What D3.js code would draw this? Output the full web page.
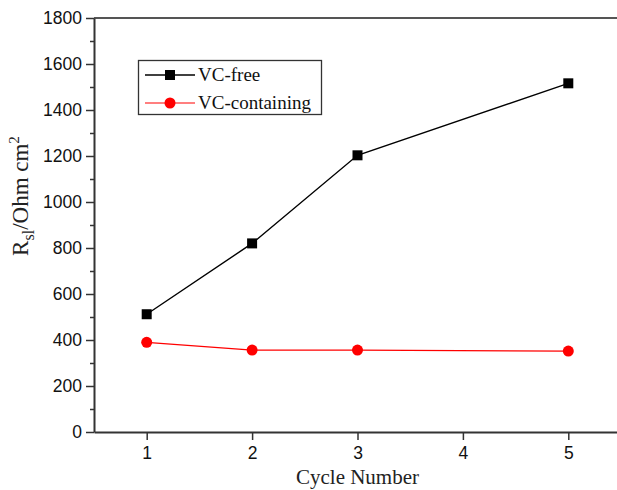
<!DOCTYPE html>
<html>
<head>
<meta charset="utf-8">
<script src="https://cdn.jsdelivr.net/npm/d3@7"></script>
<style>
  body { margin: 0; background: #fff; }
</style>
</head>
<body>
<div id="wrapper"></div>
<script>
// data
const cycles = [1, 2, 3, 5]
const vcFree = [512, 820, 1203, 1516]
const vcContaining = [390, 356, 356, 352]
const xTicks = [1, 2, 3, 4, 5]
const yTicks = [0, 200, 400, 600, 800, 1000, 1200, 1400, 1600, 1800]
const yMinorTicks = d3.range(100, 1800, 200)

function drawChart() {
  const dims = {
    width: 617,
    height: 490,
    margin: { top: 18, right: -4, bottom: 58, left: 94 }
  }
  dims.boundedWidth = dims.width - dims.margin.left - dims.margin.right
  dims.boundedHeight = dims.height - dims.margin.top - dims.margin.bottom

  const svg = d3.select("#wrapper")
    .append("svg")
      .attr("width", dims.width)
      .attr("height", dims.height)

  const bounds = svg.append("g")
      .attr("transform", `translate(${dims.margin.left},${dims.margin.top})`)

  const xScale = d3.scaleLinear()
    .domain([0.5, 5.5])
    .range([0, dims.boundedWidth])

  const yScale = d3.scaleLinear()
    .domain([0, 1800])
    .range([dims.boundedHeight, 0])

  const axisColor = "#333"
  const tickFont = "'Liberation Sans', Arial, sans-serif"
  const labelFont = "'Liberation Serif', 'Times New Roman', serif"

  // top frame line
  bounds.append("line")
      .attr("x1", 0)
      .attr("x2", dims.boundedWidth)
      .attr("y1", 0)
      .attr("y2", 0)
      .attr("stroke", "#555")
      .attr("stroke-width", 2)

  // y axis
  const yMinor = bounds.append("g")
    .call(d3.axisLeft(yScale).tickValues(yMinorTicks).tickSize(4).tickFormat(""))
  yMinor.select(".domain").remove()
  yMinor.selectAll("line").attr("stroke", axisColor).attr("stroke-width", 1.5)

  const yAxis = bounds.append("g")
    .call(d3.axisLeft(yScale).tickValues(yTicks).tickFormat(d3.format("d"))
      .tickSize(8).tickSizeOuter(0).tickPadding(4))
  yAxis.select(".domain").attr("stroke", axisColor).attr("stroke-width", 2)
  yAxis.selectAll(".tick line").attr("stroke", axisColor).attr("stroke-width", 1.5)
  yAxis.selectAll("text")
      .attr("fill", "#111")
      .style("font-family", tickFont)
      .style("font-size", "17.5px")

  // x axis
  const xAxis = bounds.append("g")
      .attr("transform", `translate(0,${dims.boundedHeight})`)
    .call(d3.axisBottom(xScale).tickValues(xTicks).tickFormat(d3.format("d"))
      .tickSize(8).tickSizeOuter(0).tickPadding(7))
  xAxis.select(".domain").attr("stroke", axisColor).attr("stroke-width", 2)
  xAxis.selectAll(".tick line").attr("stroke", axisColor).attr("stroke-width", 1.5)
  xAxis.selectAll("text")
      .attr("fill", "#111")
      .style("font-family", tickFont)
      .style("font-size", "17.5px")

  // axis labels
  bounds.append("text")
      .attr("x", xScale(3))
      .attr("y", dims.boundedHeight + 52)
      .attr("text-anchor", "middle")
      .attr("fill", "#222")
      .style("font-family", labelFont)
      .style("font-size", "21px")
      .text("Cycle Number")

  const yLabel = svg.append("text")
      .attr("transform", "translate(28,196) rotate(-90)")
      .attr("text-anchor", "middle")
      .attr("fill", "#222")
      .style("font-family", labelFont)
      .style("font-size", "23px")
  yLabel.append("tspan").text("R")
  yLabel.append("tspan").attr("dy", 6).style("font-size", "16px").text("sl")
  yLabel.append("tspan").attr("dy", -6).text("/Ohm cm")
  yLabel.append("tspan").attr("dy", -9).style("font-size", "15px").text("2")

  // lines
  const series = [
    { name: "VC-free", values: vcFree, color: "#000", width: 1.4, marker: "square" },
    { name: "VC-containing", values: vcContaining, color: "#ff0000", width: 1.2, marker: "circle" }
  ]

  const lineGen = d3.line()
    .x(d => xScale(d[0]))
    .y(d => yScale(d[1]))

  series.forEach(s => {
    const pts = cycles.map((c, i) => [c, s.values[i]])
    bounds.append("path")
        .datum(pts)
        .attr("fill", "none")
        .attr("stroke", s.color)
        .attr("stroke-width", s.width)
        .attr("d", lineGen)

    if (s.marker === "square") {
      bounds.selectAll(null)
        .data(pts)
        .enter().append("rect")
          .attr("x", d => xScale(d[0]) - 5)
          .attr("y", d => yScale(d[1]) - 5)
          .attr("width", 10)
          .attr("height", 10)
          .attr("fill", s.color)
    } else {
      bounds.selectAll(null)
        .data(pts)
        .enter().append("circle")
          .attr("cx", d => xScale(d[0]))
          .attr("cy", d => yScale(d[1]))
          .attr("r", 5.5)
          .attr("fill", s.color)
    }
  })

  // legend
  const legend = svg.append("g")
  legend.append("rect")
      .attr("x", 138.5)
      .attr("y", 60.5)
      .attr("width", 183)
      .attr("height", 54)
      .attr("fill", "#fff")
      .attr("stroke", "#333")
      .attr("stroke-width", 1.3)

  series.forEach((s, i) => {
    const y = 75 + i * 28
    legend.append("line")
        .attr("x1", 145)
        .attr("x2", 195)
        .attr("y1", y)
        .attr("y2", y)
        .attr("stroke", s.color)
        .attr("stroke-width", s.width)
    if (s.marker === "square") {
      legend.append("rect")
          .attr("x", 170 - 5)
          .attr("y", y - 5)
          .attr("width", 10)
          .attr("height", 10)
          .attr("fill", s.color)
    } else {
      legend.append("circle")
          .attr("cx", 170)
          .attr("cy", y)
          .attr("r", 5.5)
          .attr("fill", s.color)
    }
    legend.append("text")
        .attr("x", 198)
        .attr("y", y + 6)
        .attr("fill", "#111")
        .style("font-family", labelFont)
        .style("font-size", "19px")
        .text(s.name)
  })
}
drawChart()
</script>
</body>
</html>
